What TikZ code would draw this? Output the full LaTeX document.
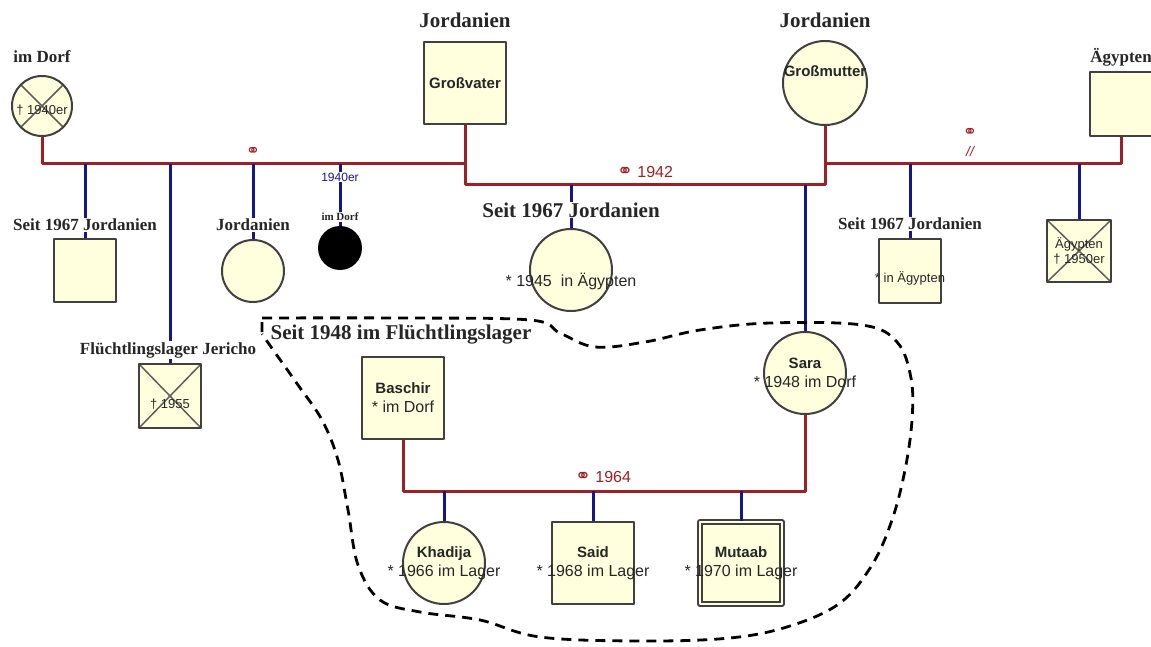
\documentclass[tikz,border=0pt]{standalone}
\usepackage{fontspec}
\setmainfont{Liberation Serif}
\setsansfont{Liberation Sans}
\newfontfamily\symfont{DejaVu Sans}
\definecolor{kinred}{RGB}{158,32,36}
\definecolor{kinblue}{RGB}{22,22,140}
\definecolor{kinfill}{RGB}{255,255,222}
\definecolor{kingray}{RGB}{64,64,64}
\newcommand\toplbl{\bfseries\fontsize{21}{23}\selectfont}
\newcommand\sidelbl{\bfseries\fontsize{17}{19}\selectfont}
\newcommand\namefont{\sffamily\bfseries\fontsize{15}{17}\selectfont}
\newcommand\datefont{\sffamily\fontsize{16}{19}\selectfont}
\newcommand\smallfont{\sffamily\fontsize{13}{15}\selectfont}
\tikzset{
  person/.style={draw=kingray, fill=kinfill, line width=2pt, inner sep=0pt},
  male/.style={person, rectangle, minimum size=82pt},
  female/.style={person, circle, minimum size=82pt},
  dead/.style={path picture={\draw[kingray!85, line width=1.5pt]
      (path picture bounding box.north west) -- (path picture bounding box.south east)
      (path picture bounding box.north east) -- (path picture bounding box.south west);}},
  inner/.style={align=center, text=black!85},
  tag/.style={fill=white, inner sep=1pt, text=black!85},
  redline/.style={kinred, line width=3pt},
  blueline/.style={kinblue, line width=3pt},
  marr/.style={kinred, inner sep=0pt, font=\datefont},
}
\begin{document}
\begin{tikzpicture}[x=1pt, y=-1pt, line join=round]
\useasboundingbox (0,0) rectangle (1151,647);
% grandparents and first generation
\node[female, dead, minimum size=60pt, label={[inner, yshift=-4pt]center:{\smallfont † 1940er}}] (dorf) at (42,106) {};
\node[male, label={[inner]center:{\namefont Großvater}}] (gv) at (465,83) {};
\node[female, minimum size=84pt, label={[inner, yshift=12pt]center:{\namefont Großmutter}}] (gm) at (825,83) {};
\node[male, minimum width=62pt, minimum height=64pt] (eg) at (1121,104) {};
\node[male, minimum width=62pt, minimum height=63pt] (k1) at (85,270) {};
\node[male, dead, minimum width=62pt, minimum height=64pt, label={[inner, yshift=-8pt]center:{\smallfont † 1955}}] (k2) at (170,396) {};
\node[female, minimum size=62pt] (k3) at (253,271) {};
\node[circle, fill=black, minimum size=44pt, inner sep=0pt] (k4) at (340,248) {};
\node[female, label={[inner, yshift=-11pt]center:{\datefont * 1945\ \ in Ägypten}}] (k5) at (571,270) {};
\node[female, label={[inner, font=\datefont]center:{{\namefont Sara}\\{\datefont * 1948 im Dorf}}}] (sara) at (805,373) {};
\node[male, minimum width=62pt, minimum height=64pt, label={[inner, yshift=-7pt]center:{\smallfont * in Ägypten}}] (k6) at (910,271) {};
\node[male, dead, minimum width=64pt, minimum height=62pt, label={[inner, font=\smallfont]center:{{\smallfont Ägypten}\\{\smallfont † 1950er}}}] (k7) at (1079,251) {};
% family in the camp
\node[male, label={[inner, font=\datefont]center:{{\namefont Baschir}\\{\datefont * im Dorf}}}] (bas) at (403,398) {};
\node[female, label={[inner, font=\datefont]center:{{\namefont Khadija}\\{\datefont * 1966 im Lager}}}] (kha) at (444,563) {};
\node[male, label={[inner, font=\datefont]center:{{\namefont Said}\\{\datefont * 1968 im Lager}}}] (sai) at (593,563) {};
\node[male, double=kinfill, double distance=2.6pt, line width=1.8pt, label={[inner, font=\datefont]center:{{\namefont Mutaab}\\{\datefont * 1970 im Lager}}}] (mut) at (741,563) {};
% marriage lines
\coordinate (m1) at (465,164);
\coordinate (m2) at (465,185);
\coordinate (m3) at (825,164);
\coordinate (m4) at (403,491);
\draw[redline] (dorf.south) |- (m1) -- (gv.south);
\draw[redline] (gv.south) -- (m2) -| (gm.south);
\draw[redline] (m3) -| (eg.south);
\draw[redline] (bas.south) -- (m4) -| (sara.south);
% descent lines
\foreach \k in {k1,k2,k3,k4,k6,k7}
  \draw[blueline] (\k.north |- m1) -- (\k.north);
\foreach \k in {k5,sara}
  \draw[blueline] (\k.north |- m2) -- (\k.north);
\foreach \k in {kha,sai,mut}
  \draw[blueline] (\k.north |- m4) -- (\k.north);
% labels
\node[tag, font=\toplbl] (lgv) at (465,20) {Jordanien};
\node[tag, font=\toplbl] (lgm) at (825,20) {Jordanien};
\node[tag, font=\sidelbl] (leg) at (1121,57) {Ägypten};
\node[tag, font=\sidelbl] (ldorf) at (42,57) {im Dorf};
\node[tag, font=\sidelbl] (lk1) at (85,225) {Seit 1967 Jordanien};
\node[tag, font=\sidelbl] (lk2) at (168,350) {Flüchtlingslager Jericho};
\node[tag, font=\sidelbl] (lk3) at (253,225) {Jordanien};
\node[tag, font=\sffamily\fontsize{12}{14}\selectfont, text=kinblue, inner sep=0.5pt] (lk4a) at (340,177) {1940er};
\node[tag, font=\bfseries\fontsize{11}{13}\selectfont] (lk4b) at (340,217) {im Dorf};
\node[tag, font=\toplbl] (lk5) at (571,210) {Seit 1967 Jordanien};
\node[tag, font=\sidelbl] (lk6) at (910,224) {Seit 1967 Jordanien};
\node[tag, font=\toplbl, fill=none] (lcamp) at (401,335) {Seit 1948 im Flüchtlingslager};
\node[marr] (w1) at (253,152) {\symfont\fontsize{17}{18}\selectfont ⚭};
\node[marr] (w2) at (645,172) {{\symfont\fontsize{19}{20}\selectfont ⚭} 1942};
\node[marr] (w3) at (970,133) {\symfont\fontsize{17}{18}\selectfont ⚭};
\node[marr, font=\sffamily\itshape\fontsize{14}{15}\selectfont] (w3d) at (970,151) {//};
\node[marr] (w4) at (603,477) {{\symfont\fontsize{19}{20}\selectfont ⚭} 1964};
% camp area
\draw[black, line width=2.8pt, dash pattern=on 10pt off 7pt]
  (262,332) -- (262,318) plot[smooth, tension=0.6] coordinates {
  (262,318) (400,318) (530,320) (560,333) (595,347) (645,342) (700,330)
  (770,323) (862,325) (897,342) (911,378) (912,420) (905,470) (892,520)
  (872,565) (840,603) (790,626) (730,638) (640,641) (540,637) (480,620)
  (420,612) (380,600) (358,565) (348,510) (338,460) (322,420) (298,385)
  (276,354) (262,334)};
\end{tikzpicture}
\end{document}
